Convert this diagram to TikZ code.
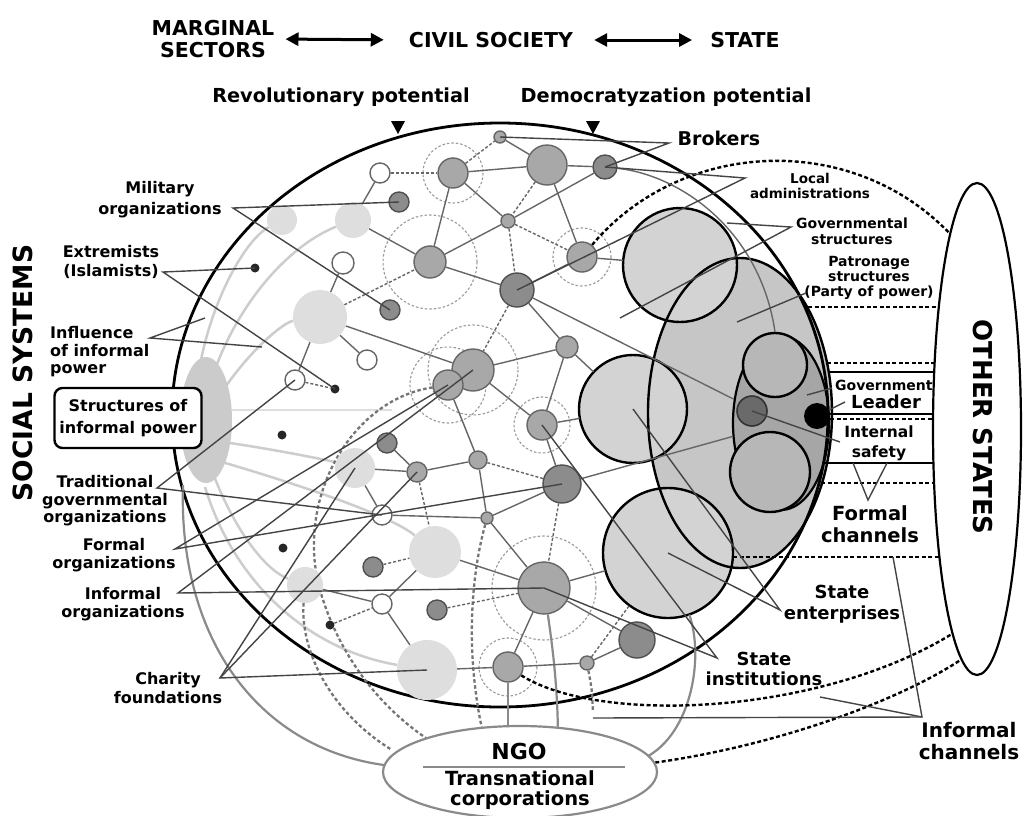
\documentclass[tikz,border=0pt]{standalone}
\usepackage{fontspec}
\setmainfont{DejaVu Sans}
\usetikzlibrary{arrows.meta,shapes.geometric}
\pgfdeclarelayer{back}
\pgfdeclarelayer{edges}
\pgfsetlayers{back,edges,main}
\newcommand\myfs[2]{\fontsize{#1}{#2}\selectfont}
\definecolor{ndfill}{HTML}{A8A8A8}
\definecolor{ndline}{HTML}{666666}
\definecolor{dkfill}{HTML}{8C8C8C}
\definecolor{dkline}{HTML}{505050}
\definecolor{ltfill}{HTML}{DEDEDE}
\definecolor{edgecol}{HTML}{666666}
\definecolor{conccol}{HTML}{9A9A9A}
\definecolor{leadcol}{HTML}{444444}
\definecolor{bigfill}{HTML}{D3D3D3}
\definecolor{pefill}{HTML}{C6C6C6}
\definecolor{gefill}{HTML}{A6A6A6}
\definecolor{gcfill}{HTML}{B7B7B7}
\definecolor{dcfill}{HTML}{6A6A6A}
\definecolor{blobcol}{HTML}{CBCBCB}
\definecolor{inflcol}{HTML}{CDCDCD}
\definecolor{ngocol}{HTML}{8A8A8A}
\tikzset{
  xlab/.style={inner sep=0pt, align=center, text=black, font=\bfseries\myfs{16}{17.5}},
  xnd/.style={circle, inner sep=0pt, draw=ndline, fill=ndfill, line width=1.4pt},
  xdk/.style={circle, inner sep=0pt, draw=dkline, fill=dkfill, line width=1.4pt},
  xwt/.style={circle, inner sep=0pt, draw=ndline, fill=white, line width=1.4pt},
  xlt/.style={circle, inner sep=0pt, fill=ltfill},
  xbk/.style={circle, inner sep=0pt, fill=black!85, minimum size=9pt},
  xedge/.style={draw=edgecol, line width=1.4pt},
  xdedge/.style={draw=edgecol, line width=1.4pt, dash pattern=on 3pt off 2pt},
  xconc/.style={draw=conccol, line width=1.1pt, dash pattern=on 2.5pt off 2pt},
  xlead/.style={draw=leadcol, line width=1.4pt},
  xinfl/.style={draw=inflcol, line width=2.5pt},
  xga/.style={draw=ngocol, line width=2.2pt},
  xda/.style={draw=ngocol!85!black, line width=2.3pt, dash pattern=on 3.5pt off 2.5pt},
  xdc/.style={draw=black, line width=2.4pt, dash pattern=on 4pt off 2.5pt},
  xchan/.style={draw=black, line width=2pt},
  xdchan/.style={draw=black, line width=2.4pt, dash pattern=on 4pt off 2.5pt},
  xbig/.style={circle, inner sep=0pt, fill=bigfill},
  xharr/.style={draw=black, line width=3pt, {Triangle[length=13pt,width=13pt]}-{Triangle[length=13pt,width=13pt]}},
}
\begin{document}
\begin{tikzpicture}[x=1pt,y=-1pt]
\useasboundingbox (0,0) rectangle (1023,815);

% ---------------- network nodes
\node[xwt, minimum size=20pt] (n1) at (380,173) {};
\node[xnd, minimum size=30pt] (n2) at (453,173) {};
\node[xnd, minimum size=12pt] (n3) at (500,137) {};
\node[xnd, minimum size=40pt] (n4) at (547,165) {};
\node[xdk, minimum size=24pt] (n5) at (605,167) {};
\node[xdk, minimum size=20pt] (n6) at (399,202) {};
\node[xlt, minimum size=30pt] (b1) at (282,220) {};
\node[xlt, minimum size=36pt] (b2) at (353,220) {};
\node[xnd, minimum size=14pt] (n7) at (508,221) {};
\node[xnd, minimum size=32pt] (n8) at (430,262) {};
\node[xnd, minimum size=30pt] (n9) at (582,257) {};
\node[xwt, minimum size=22pt] (n10) at (343,263) {};
\node[xbk] (k1) at (255,268) {};
\node[xdk, minimum size=34pt] (n11) at (517,290) {};
\node[xlt, minimum size=54pt] (b3) at (320,317) {};
\node[xdk, minimum size=20pt] (n12) at (390,310) {};
\node[xwt, minimum size=20pt] (n13) at (367,360) {};
\node[xwt, minimum size=20pt] (n14) at (295,380) {};
\node[xbk] (k2) at (335,389) {};
\node[xbk] (k3) at (282,435) {};
\node[xnd, minimum size=22pt] (n15) at (567,347) {};
\node[xnd, minimum size=42pt] (n16) at (473,370) {};
\node[xnd, minimum size=30pt] (n17) at (448,385) {};
\node[xnd, minimum size=30pt] (n18) at (542,425) {};
\node[xdk, minimum size=20pt] (n19) at (387,443) {};
\node[xnd, minimum size=20pt] (n20) at (417,472) {};
\node[xnd, minimum size=18pt] (n21) at (478,460) {};
\node[xdk, minimum size=38pt] (n22) at (562,484) {};
\node[xlt, minimum size=40pt] (b4) at (355,468) {};
\node[xwt, minimum size=20pt] (n23) at (382,515) {};
\node[xnd, minimum size=12pt] (n24) at (487,518) {};
\node[xlt, minimum size=52pt] (b5) at (435,552) {};
\node[xbk] (k4) at (283,548) {};
\node[xdk, minimum size=20pt] (n25) at (373,567) {};
\node[xlt, minimum size=36pt] (b6) at (305,585) {};
\node[xwt, minimum size=20pt] (n26) at (382,604) {};
\node[xdk, minimum size=20pt] (n27) at (437,610) {};
\node[xnd, minimum size=52pt] (n28) at (544,588) {};
\node[xbk] (k5) at (330,625) {};
\node[xdk, minimum size=36pt] (n29) at (637,640) {};
\node[xlt, minimum size=60pt] (b7) at (427,670) {};
\node[xnd, minimum size=30pt] (n30) at (508,667) {};
\node[xnd, minimum size=14pt] (n31) at (587,663) {};

% ---------------- other states and NGO (main layer, white filled)
\node[ellipse, draw=black, line width=2.2pt, fill=white, minimum width=88pt, minimum height=492pt, inner sep=0pt] (os) at (977,429) {};
\node[ellipse, draw=ngocol, line width=2.2pt, fill=white, minimum width=274pt, minimum height=92pt, inner sep=0pt] (ngo) at (520,772) {};

% ---------------- background layer
\begin{pgfonlayer}{back}
\fill[white] (0,0) rectangle (1023,815);
% influence arcs
\draw[xinfl] (200,365) .. controls (212,300) and (245,240) .. (b1);
\draw[xinfl] (214,372) .. controls (240,300) and (290,245) .. (b2);
\draw[xinfl] (226,386) .. controls (255,345) and (285,322) .. (b3);
\draw[draw=ltfill, line width=1.5pt] (232,410) -- (392,410);
\draw[xinfl] (230,443) .. controls (290,452) and (335,462) .. (b4);
\draw[xinfl] (222,462) .. controls (300,485) and (390,515) .. (b5);
\draw[xinfl] (214,476) .. controls (235,530) and (265,570) .. (b6);
\draw[xinfl] (205,487) .. controls (235,585) and (310,650) .. (b7);
\fill[blobcol] (206,420) ellipse [x radius=26, y radius=63];
% concentric dashed rings
\draw[xconc] (n2) circle (30);
\draw[xconc] (n8) circle (47);
\draw[xconc] (n9) circle (29);
\draw[xconc] (n16) circle (45);
\draw[xconc] (n17) circle (38);
\draw[xconc] (n18) circle (28);
\draw[xconc] (n28) circle (52);
\draw[xconc] (n30) circle (29);
% state structures
\fill[pefill] (740,413) ellipse [x radius=92, y radius=155];
\node[xbig, minimum size=114pt] (gs) at (680,265) {};
\node[xbig, minimum size=108pt] (si) at (633,409) {};
\node[xbig, minimum size=130pt] (se) at (668,553) {};
\node[ellipse, draw=black, line width=2.4pt, minimum width=184pt, minimum height=310pt, inner sep=0pt] (pe) at (740,413) {};
\draw[black, line width=2.4pt] (gs) circle (57);
\draw[black, line width=2.4pt] (si) circle (54);
\draw[black, line width=2.4pt] (se) circle (65);
\node[ellipse, fill=gefill, draw=black, line width=2.2pt, minimum width=96pt, minimum height=174pt, inner sep=0pt] (ge) at (781,423) {};
\node[circle, fill=gcfill, draw=black, line width=2.4pt, minimum size=64pt, inner sep=0pt] (gc) at (775,365) {};
\node[circle, fill=gcfill, draw=black, line width=2.4pt, minimum size=80pt, inner sep=0pt] (ic) at (770,472) {};
\node[circle, fill=dcfill, draw=black!80, line width=1.6pt, minimum size=30pt, inner sep=0pt] (dc) at (752,411) {};
\node[circle, fill=black, minimum size=26pt, inner sep=0pt] (ld) at (817,416) {};
% main circle
\node[ellipse, draw=black, line width=2.8pt, minimum width=656pt, minimum height=584pt, inner sep=0pt] (mc) at (500,415) {};
% gray arcs towards NGO
\draw[xga] (n30) -- (508,742);
\draw[xga] (n28) .. controls (553,650) and (558,690) .. (558,742);
\draw[xga] (640,760) .. controls (690,740) and (705,660) .. (se);
\draw[xga] (392,766) .. controls (260,752) and (178,640) .. (183,485);
% dashed gray arcs
\draw[xda] (n17) .. controls (350,400) and (295,500) .. (320,590) .. controls (340,660) and (385,712) .. (432,742);
\draw[xda] (b6) .. controls (300,650) and (330,712) .. (392,750);
\draw[xda] (n24) .. controls (470,580) and (465,660) .. (485,742);
\draw[xda] (n31) .. controls (592,690) .. (593,712);
% dashed black channels (curves)
\draw[xdc] (n9) .. controls (680,140) and (850,130) .. (os.98);
\draw[xdc] (n30) .. controls (600,725) and (820,715) .. (os.263);
\draw[xdc] (ngo.4) .. controls (780,745) and (900,700) .. (os.266);
% straight channels
\coordinate (ch1) at (808,307);
\coordinate (ch2) at (827,363);
\coordinate (ch3) at (828,372);
\coordinate (ch4) at (830,414);
\coordinate (ch5) at (830,419);
\coordinate (ch6) at (825,463);
\coordinate (ch7) at (821,483);
\draw[xdchan] (ch1) -- (ch1 -| os.center);
\draw[xdchan] (ch2) -- (ch2 -| os.center);
\draw[xchan] (ch3) -- (ch3 -| os.center);
\draw[xchan] (ch4) -- (ch4 -| os.center);
\draw[xdchan] (ch5) -- (ch5 -| os.center);
\draw[xchan] (ch6) -- (ch6 -| os.center);
\draw[xdchan] (ch7) -- (ch7 -| os.center);
\draw[xdchan] (se.east |- 0,557) -- (os.center |- 0,557);
\end{pgfonlayer}

% ---------------- edges
\begin{pgfonlayer}{edges}
\foreach \a/\b in {n1/b2, n2/n4, n2/n7, n2/n8, n3/n4, n4/n5, n4/n9, n7/n5, n7/n8, b2/n8,
  n8/n11, n11/n9, n11/n15, n9/gs, n15/n16, n15/n18, n15/si, n16/n18, n17/n21, n18/si,
  n18/n22, n21/n20, n21/n24, n20/n19, n20/b4, n24/n23, n24/n22, n24/n28, n22/ge,
  b4/n23, b5/n28, b5/n26, n26/b7, n26/b6, n28/n30, n28/n29, n28/se, n29/n31, n31/n30,
  b7/n30, b3/n10, b3/n14, b3/n13, b3/n16, n11/ge}
  \draw[xedge] (\a) -- (\b);
\foreach \a/\b in {n1/n2, n2/n3, n4/n7, n7/n9, n7/n11, n11/n16, n21/n22, n20/b5, k5/n26,
  n27/n28, n31/se, n14/k2, b3/n8, n22/n28, n25/b5}
  \draw[xdedge] (\a) -- (\b);
\draw[xedge] (n5) .. controls (680,175) and (760,230) .. (gc.north);
\end{pgfonlayer}

% ---------------- header
\node[xlab, font=\bfseries\myfs{20.5}{22}] (ms) at (213,39) {MARGINAL\\SECTORS};
\node[xlab, font=\bfseries\myfs{20.5}{22}] (cs) at (491,40) {CIVIL SOCIETY};
\node[xlab, font=\bfseries\myfs{20.5}{22}] (st) at (745,40) {STATE};
\draw[xharr, shorten <=11pt, shorten >=25pt] (ms.east) -- (cs.west);
\draw[xharr, shorten <=21pt, shorten >=18pt] (cs.east) -- (st.west);
\node[xlab, font=\bfseries\myfs{19.3}{21}] (rp) at (341,97) {Revolutionary potential};
\node[xlab, font=\bfseries\myfs{19.3}{21}] (dp) at (666,97) {Democratyzation potential};
\fill[black] (398,134) -- (391,121) -- (405,121) -- cycle;
\fill[black] (593,134) -- (586,121) -- (600,121) -- cycle;

% ---------------- left labels
\node[xlab, font=\bfseries\myfs{26.5}{28}, rotate=90] (soc) at (23,373) {SOCIAL SYSTEMS};
\node[xlab, font=\bfseries\myfs{16}{21}] (mil) at (160,200) {Military\\organizations};
\node[xlab, font=\bfseries\myfs{16}{19}] (ext) at (111,262) {Extremists\\(Islamists)};
\node[xlab, align=left, anchor=west] (inf) at (50,352) {Influence\\of informal\\power};
\node[xlab, draw=black, line width=2.4pt, rounded corners=8pt, fill=white, minimum width=147pt, minimum height=60pt, font=\bfseries\myfs{16}{22}] (sip) at (128,418) {Structures of\\informal power};
\node[xlab] (trad) at (105,501) {Traditional\\governmental\\organizations};
\node[xlab] (form) at (114,555) {Formal\\organizations};
\node[xlab, font=\bfseries\myfs{16}{18}] (infm) at (123,604) {Informal\\organizations};
\node[xlab, font=\bfseries\myfs{16}{19}] (char) at (168,688) {Charity\\foundations};

% ---------------- right labels
\node[xlab, font=\bfseries\myfs{19}{21}] (brk) at (719,138) {Brokers};
\node[xlab, font=\bfseries\myfs{13.5}{14.5}] (loc) at (810,186) {Local\\administrations};
\node[xlab, font=\bfseries\myfs{14}{16}] (gov) at (852,231) {Governmental\\structures};
\node[xlab, font=\bfseries\myfs{14}{15}] (pat) at (869,278) {Patronage\\structures\\(Party of power)};
\node[xlab, font=\bfseries\myfs{14}{15}, anchor=west] (gvt) at (835,385) {Government};
\node[xlab, font=\bfseries\myfs{18}{20}] (ldr) at (886,402) {Leader};
\node[xlab, font=\bfseries\myfs{15.5}{20}] (ins) at (879,443) {Internal\\safety};
\node[xlab, font=\bfseries\myfs{19.5}{22}] (fch) at (870,524) {Formal\\channels};
\node[xlab, font=\bfseries\myfs{26}{28}, rotate=-90] (oth) at (983,427) {OTHER STATES};
\node[xlab, font=\bfseries\myfs{18}{21}] (sen) at (842,604) {State\\enterprises};
\node[xlab, font=\bfseries\myfs{18}{20}] (sin) at (764,669) {State\\institutions};
\node[xlab, font=\bfseries\myfs{20}{22}] (ich) at (969,741) {Informal\\channels};
\node[xlab, font=\bfseries\myfs{22}{24}] (ngot) at (519,751) {NGO};
\draw[ngocol, line width=2.2pt] (423,767) -- (625,767);
\node[xlab, font=\bfseries\myfs{19.5}{20}] (tnc) at (520,790) {Transnational\\corporations};

% ---------------- leader lines
\coordinate (milA) at (233,208);
\draw[xlead] (n6.center) -- (milA) -- (n12.center);
\coordinate (extA) at (163,272);
\draw[xlead] (k1.center) -- (extA) -- (k2.center);
\coordinate (infA) at (150,338);
\coordinate (infT1) at (205,318);
\coordinate (infT2) at (262,347);
\draw[xlead] (infT1) -- (infA) -- (infT2);
\coordinate (trdA) at (157,488);
\draw[xlead] (n14.center) -- (trdA) -- (n23.center);
\coordinate (frmA) at (175,549);
\draw[xlead] (n17.center) -- (frmA) -- (n22.center);
\coordinate (ifmA) at (178,593);
\draw[xlead] (n16.center) -- (ifmA) -- (n28.center);
\coordinate (chA) at (220,678);
\draw[xlead] (b7.center) -- (chA) -- (b4.center);
\draw[xlead] (chA) -- (n20.center);
\coordinate (brA) at (669,143);
\draw[xlead] (n3.center) -- (brA) -- (n5.center);
\coordinate (laA) at (745,178);
\draw[xlead] (n5.center) -- (laA) -- (n11.center);
\coordinate (gsA) at (791,227);
\coordinate (gsT1) at (727,223);
\coordinate (gsT2) at (620,318);
\draw[xlead] (gsT1) -- (gsA) -- (gsT2);
\coordinate (paA) at (806,293);
\coordinate (paT) at (737,322);
\draw[xlead] (paA) -- (paT);
\coordinate (gvA) at (832,388);
\coordinate (gvT) at (807,395);
\draw[xlead] (gvA) -- (gvT);
\coordinate (ldA) at (845,402);
\draw[xlead] (ldA) -- (ld);
\coordinate (isA) at (840,442);
\draw[xlead] (isA) -- (dc.center);
\coordinate (fcA) at (868,500);
\coordinate (fcT1) at (853,463);
\coordinate (fcT2) at (887,463);
\draw[xlead] (fcT1) -- (fcA) -- (fcT2);
\coordinate (seA) at (780,610);
\draw[xlead] (se.center) -- (seA) -- (si.center);
\coordinate (siA) at (717,658);
\draw[xlead] (n18.center) -- (siA) -- (n28.center);
\coordinate (icA) at (922,717);
\coordinate (icT1) at (593,718);
\coordinate (icT2) at (893,557);
\coordinate (icT3) at (820,697);
\draw[xlead] (icT1) -- (icA) -- (icT2);
\draw[xlead] (icA) -- (icT3);
\end{tikzpicture}
\end{document}
